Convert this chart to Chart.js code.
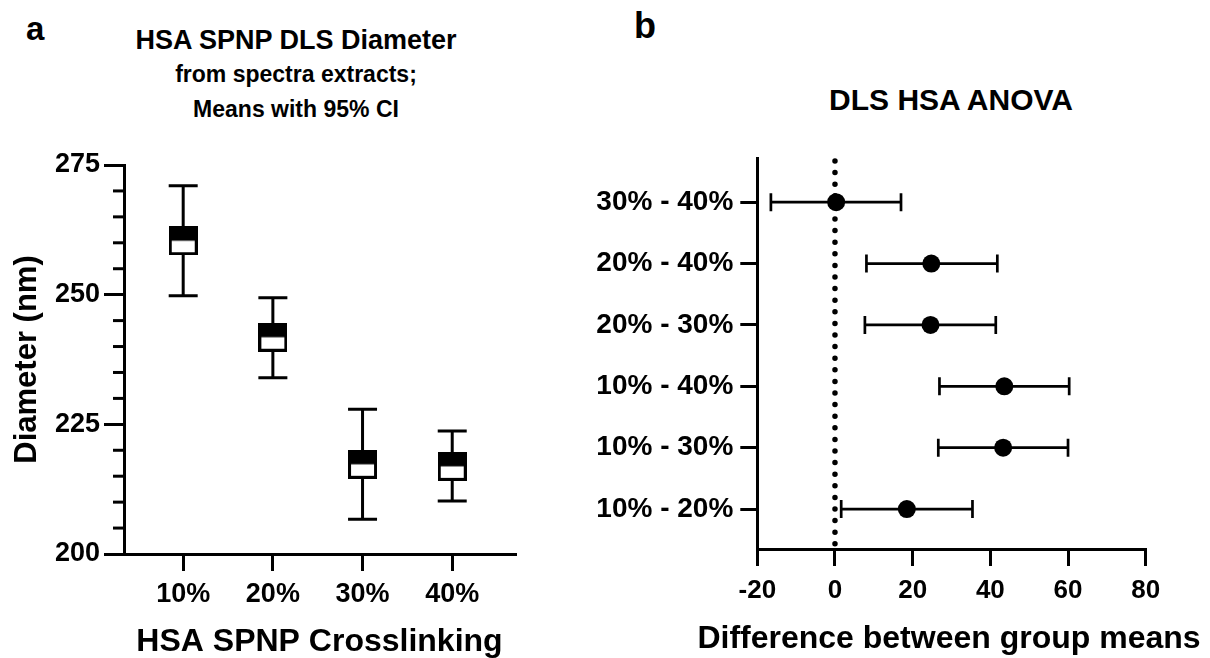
<!DOCTYPE html>
<html>
<head>
<meta charset="utf-8">
<script src="https://cdn.jsdelivr.net/npm/chart.js@4.4.1/dist/chart.umd.min.js"></script>
<style>
  body { margin: 0; background: #fff; width: 1210px; height: 658px; position: relative; overflow: hidden;
         font-family: "Liberation Sans", Arial, sans-serif; font-weight: bold; color: #000; }
  canvas { position: absolute; top: 0; }
  #diameterChart { left: 0; }
  #anovaChart { left: 560px; }
  .txt { position: absolute; line-height: 1; white-space: nowrap; text-align: center; }
</style>
</head>
<body>
<div class="txt" style="left:26px;top:12px;font-size:33px;text-align:left">a</div>
<div class="txt" style="left:634px;top:8px;font-size:36px;text-align:left">b</div>
<div class="txt" style="left:96px;width:400px;top:27px;font-size:27px">HSA SPNP DLS Diameter</div>
<div class="txt" style="left:96px;width:400px;top:63px;font-size:23px">from spectra extracts;</div>
<div class="txt" style="left:96px;width:400px;top:98px;font-size:23px">Means with 95% CI</div>
<div class="txt" style="left:801px;width:300px;top:85px;font-size:30px">DLS HSA ANOVA</div>

<canvas id="diameterChart" width="560" height="658"></canvas>
<canvas id="anovaChart" width="650" height="658"></canvas>

<div class="txt" style="left:649px;width:600px;top:621px;font-size:32px">Difference between group means</div>

<script>
// Diameter per crosslinking level: mean with 95% CI
const crosslinking = ["10%", "20%", "30%", "40%"];
const diameterMean = [260.4, 241.8, 217.3, 216.9];
const diameterCiLow = [249.8, 234.0, 206.7, 210.2];
const diameterCiHigh = [271.0, 249.4, 227.9, 223.7];
const diameterTicks = [200, 225, 250, 275];

// Pairwise differences between group means, top row first
const comparisons = ["30% - 40%", "20% - 40%", "20% - 30%", "10% - 40%", "10% - 30%", "10% - 20%"];
const meanDiff = [0.3, 24.8, 24.6, 43.6, 43.3, 18.5];
const diffCiLow = [-16.5, 8.1, 7.7, 26.9, 26.6, 1.6];
const diffCiHigh = [17.0, 41.8, 41.4, 60.3, 60.0, 35.4];
const diffTicks = [-20, 0, 20, 40, 60, 80];

const family = '"Liberation Sans", Arial, sans-serif';
Chart.defaults.color = "#000";
Chart.defaults.font.family = family;
Chart.defaults.font.weight = "bold";

// whiskers with end caps, from low/high arrays in plugin options
const errorBars = {
    id: "errorBars",
    beforeDatasetsDraw(chart, args, opts) {
        const ctx = chart.ctx;
        const xs = chart.scales.x, ys = chart.scales.y;
        const half = opts.cap / 2;
        ctx.save();
        ctx.strokeStyle = "#000";
        ctx.lineWidth = opts.width;
        chart.data.datasets[0].data.forEach((p, i) => {
            ctx.beginPath();
            if (opts.horizontal) {
                const y = ys.getPixelForValue(p.y);
                const x1 = xs.getPixelForValue(opts.low[i]);
                const x2 = xs.getPixelForValue(opts.high[i]);
                ctx.moveTo(x1, y); ctx.lineTo(x2, y);
                ctx.moveTo(x1, y - half); ctx.lineTo(x1, y + half);
                ctx.moveTo(x2, y - half); ctx.lineTo(x2, y + half);
            } else {
                const x = xs.getPixelForValue(p.x);
                const y1 = ys.getPixelForValue(opts.low[i]);
                const y2 = ys.getPixelForValue(opts.high[i]);
                ctx.moveTo(x, y1); ctx.lineTo(x, y2);
                ctx.moveTo(x - half, y1); ctx.lineTo(x + half, y1);
                ctx.moveTo(x - half, y2); ctx.lineTo(x + half, y2);
            }
            ctx.stroke();
        });
        ctx.restore();
    }
};

// short minor ticks every 5 nm on the diameter axis
const minorTicks = {
    id: "minorTicks",
    afterDraw(chart) {
        const ctx = chart.ctx, ys = chart.scales.y;
        const left = chart.chartArea.left;
        ctx.save();
        ctx.strokeStyle = "#000";
        ctx.lineWidth = 3;
        for (let v = ys.min; v <= ys.max; v += 5) {
            if (diameterTicks.includes(v)) continue;
            const y = ys.getPixelForValue(v);
            ctx.beginPath();
            ctx.moveTo(left, y); ctx.lineTo(left - 11, y);
            ctx.stroke();
        }
        ctx.restore();
    }
};

// dotted reference line at zero difference
const zeroLine = {
    id: "zeroLine",
    beforeDatasetsDraw(chart) {
        const { ctx, chartArea, scales } = chart;
        const x = scales.x.getPixelForValue(0);
        ctx.save();
        ctx.setLineDash([0, 11.6]);
        ctx.lineCap = "round";
        ctx.lineWidth = 5.5;
        ctx.strokeStyle = "#000";
        ctx.beginPath();
        ctx.moveTo(x, chartArea.top + 3);
        ctx.lineTo(x, chartArea.bottom);
        ctx.stroke();
        ctx.restore();
    }
};

// square symbol, upper half filled
function halfSquare(size, lw) {
    const c = document.createElement("canvas");
    c.width = size; c.height = size;
    const g = c.getContext("2d");
    g.fillStyle = "#fff";
    g.fillRect(0, 0, size, size);
    g.fillStyle = "#000";
    g.fillRect(0, 0, size, size / 2);
    g.strokeStyle = "#000";
    g.lineWidth = lw;
    g.strokeRect(lw / 2, lw / 2, size - lw, size - lw);
    return c;
}

function axisGrid(len) {
    return { drawOnChartArea: false, drawTicks: true, tickLength: len, tickWidth: 3, tickColor: "#000", color: "#000", lineWidth: 3 };
}
const axisBorder = { display: true, width: 3, color: "#000" };

// Diameter
new Chart(document.getElementById("diameterChart"), {
    type: "scatter",
    data: {
        datasets: [{
            data: diameterMean.map((m, i) => ({ x: i + 1, y: m })),
            pointStyle: halfSquare(29, 3),
            pointRadius: 14.5
        }]
    },
    options: {
        responsive: false,
        animation: false,
        devicePixelRatio: 1,
        layout: { padding: { top: 165, left: 0, right: 45, bottom: 0 } },
        plugins: {
            legend: { display: false },
            tooltip: { enabled: false },
            errorBars: { low: diameterCiLow, high: diameterCiHigh, cap: 29, width: 3 }
        },
        scales: {
            x: {
                type: "linear", min: 0.34, max: 4.7,
                afterBuildTicks: s => { s.ticks = crosslinking.map((c, i) => ({ value: i + 1 })); },
                afterFit: s => { s.height = 104; },
                grid: axisGrid(17),
                border: axisBorder,
                ticks: { font: { size: 27, weight: "bold" }, padding: 7, maxRotation: 0, autoSkip: false,
                         callback: v => crosslinking[Math.round(v) - 1] },
                title: { display: true, text: "HSA SPNP Crosslinking", font: { size: 32, weight: "bold", lineHeight: 1 },
                         padding: { top: 0, bottom: 0 } }
            },
            y: {
                min: 200, max: 275,
                afterBuildTicks: s => { s.ticks = diameterTicks.map(v => ({ value: v })); },
                afterFit: s => { s.width = 124; },
                grid: axisGrid(20),
                border: axisBorder,
                ticks: { font: { size: 27, weight: "bold" }, padding: 4 },
                title: { display: true, text: "Diameter (nm)", font: { size: 31, weight: "bold", lineHeight: 1 },
                         padding: { top: 12, bottom: 0 } }
            }
        }
    },
    plugins: [errorBars, minorTicks]
});

// Differences between means
const rows = comparisons.length;
new Chart(document.getElementById("anovaChart"), {
    type: "scatter",
    data: {
        datasets: [{
            data: meanDiff.map((d, i) => ({ x: d, y: rows - 1 - i })),
            pointStyle: "circle",
            pointRadius: 9,
            pointBackgroundColor: "#000",
            pointBorderWidth: 0
        }]
    },
    options: {
        responsive: false,
        animation: false,
        devicePixelRatio: 1,
        layout: { padding: { top: 158, left: 0, right: 64.3, bottom: 0 } },
        plugins: {
            legend: { display: false },
            tooltip: { enabled: false },
            errorBars: { low: diffCiLow, high: diffCiHigh, cap: 18, width: 2.7, horizontal: true }
        },
        scales: {
            x: {
                min: -20, max: 80,
                afterBuildTicks: s => { s.ticks = diffTicks.map(v => ({ value: v })); },
                afterFit: s => { s.height = 109; },
                grid: axisGrid(17),
                border: axisBorder,
                ticks: { font: { size: 26, weight: "bold" }, padding: 9, maxRotation: 0 }
            },
            y: {
                min: -0.65, max: 5.72,
                afterBuildTicks: s => { s.ticks = comparisons.map((c, i) => ({ value: i })); },
                afterFit: s => { s.width = 197.3; },
                grid: axisGrid(17),
                border: axisBorder,
                ticks: { font: { size: 28, weight: "bold" }, padding: 7,
                         callback: v => comparisons[rows - 1 - Math.round(v)] }
            }
        }
    },
    plugins: [zeroLine, errorBars]
});
</script>
</body>
</html>
